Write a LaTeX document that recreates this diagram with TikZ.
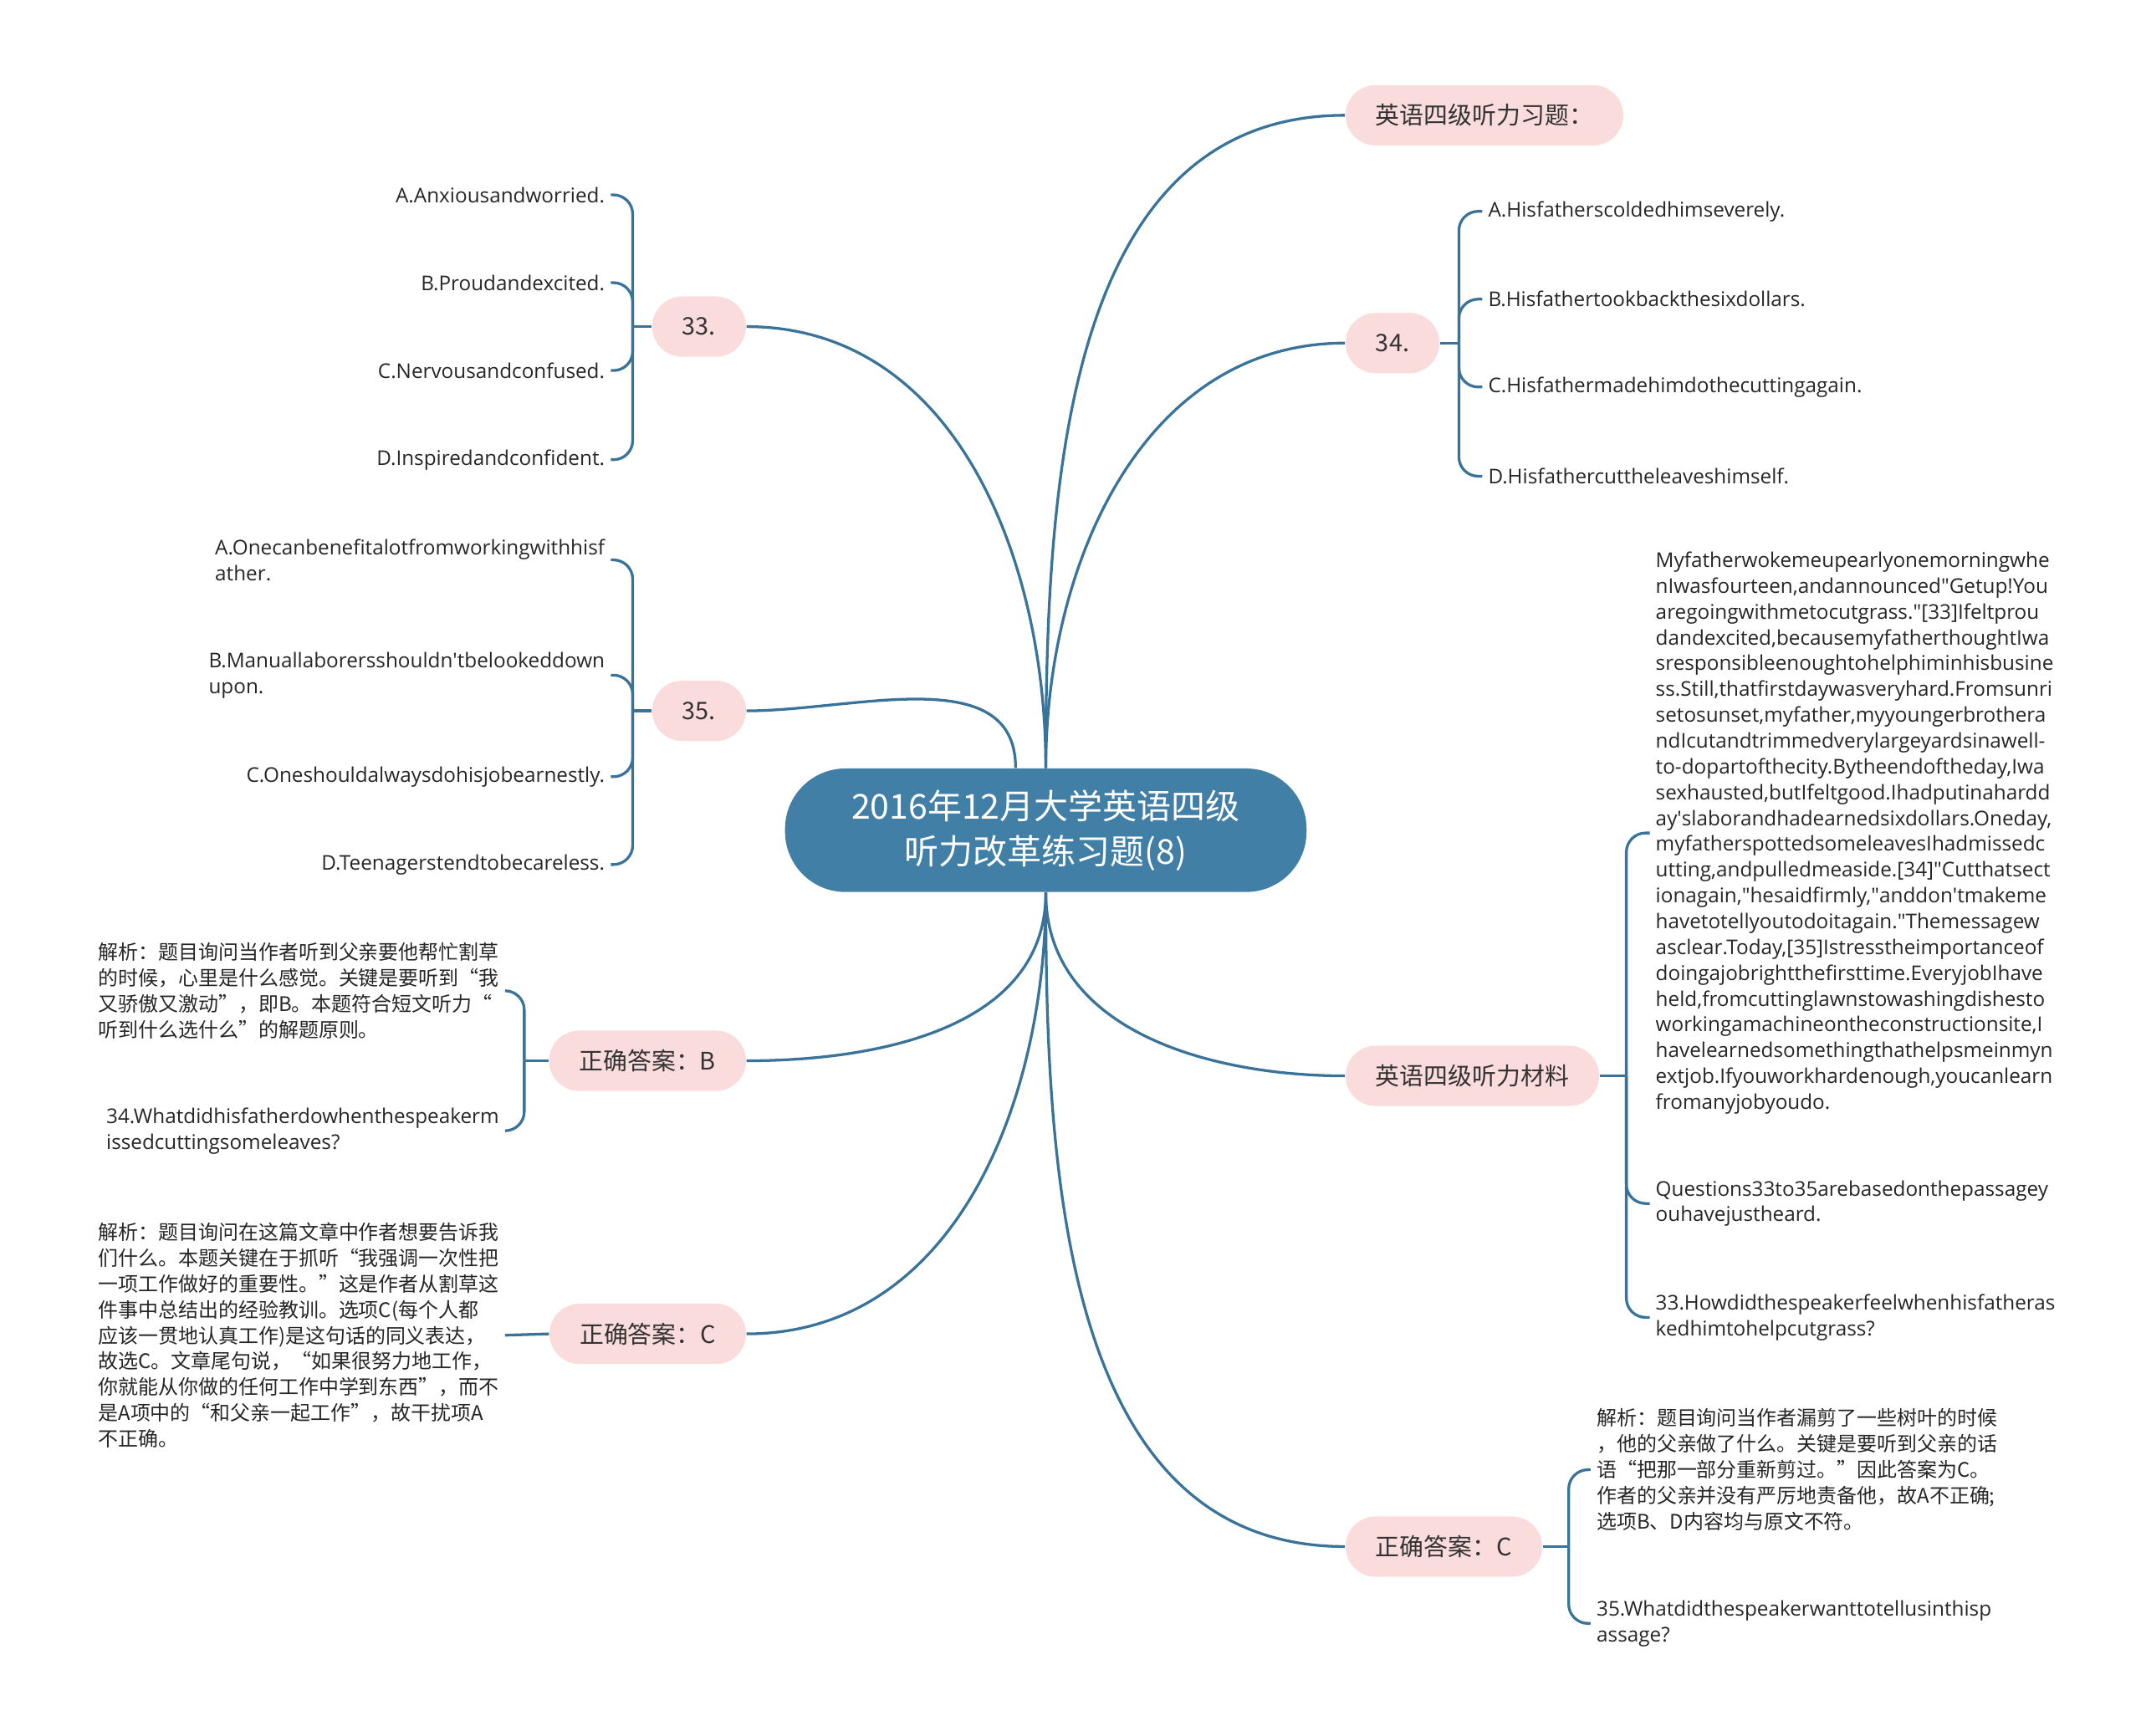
\documentclass[tikz,border=0pt]{standalone}
\usepackage{fontspec}
\setmainfont{Open Sans}
\newfontfamily\cjk{Noto Sans CJK SC}
\definecolor{linkblue}{HTML}{3A7399}
\definecolor{topicblue}{HTML}{417FA6}
\definecolor{pinkbg}{HTML}{FBDCDC}
\definecolor{inkgray}{HTML}{333333}
\newcommand{\dq}{\textquotedbl}
\newcommand{\sq}{\textquotesingle}
\tikzset{
  topic/.style={fill=topicblue,text=white,rounded corners=22pt,minimum width=190pt,minimum height=45pt,align=center,font=\cjk\fontsize{12.5}{16.5}\selectfont},
  sub/.style={fill=pinkbg,text=inkgray,rounded corners=11pt,minimum height=22pt,inner xsep=11pt,font=\cjk\fontsize{8.8}{10}\selectfont},
  leaf/.style={inner sep=2pt,align=left,text=black!85,font=\fontsize{7.4}{9.4}\selectfont},
  cleaf/.style={leaf,font=\cjk\fontsize{7.3}{9.4}\selectfont},
  link/.style={draw=linkblue,line width=1pt},
  hook/.style={link,rounded corners=7pt}
}
\begin{document}
\begin{tikzpicture}[x=0.5pt,y=0.5pt]
\useasboundingbox (0,0) rectangle (1560,-1265);

\node[topic] (main) at (762,-605) {2016年12月大学英语四级\\听力改革练习题(8)};

\node[sub,anchor=west] (ex) at (980,-84) {英语四级听力习题：};
\node[sub,anchor=west] (q34) at (980,-250) {34.};
\node[sub,anchor=west] (mat) at (980,-784) {英语四级听力材料};
\node[sub,anchor=west] (ansR) at (980,-1127) {正确答案：C};
\node[sub,anchor=east] (q33) at (544,-238) {33.};
\node[sub,anchor=east] (q35) at (544,-518) {35.};
\node[sub,anchor=east] (ansB) at (544,-773) {正确答案：B};
\node[sub,anchor=east] (ansC) at (544,-972) {正确答案：C};

\draw[link] (main.north) to[out=90,in=180] (ex.west);
\draw[link] (main.north) to[out=90,in=180] (q34.west);
\draw[link] (main.north) to[out=90,in=0] (q33.east);
\draw[link] ([xshift=-11pt]main.north) to[out=90,in=0] (q35.east);
\draw[link] (main.south) to[out=-90,in=180] (mat.west);
\draw[link] (main.south) to[out=-90,in=180] (ansR.west);
\draw[link] (main.south) to[out=-90,in=0] (ansB.east);
\draw[link] (main.south) to[out=-90,in=0] (ansC.east);

\node[leaf,anchor=east] (a33) at (445,-142) {A.Anxiousandworried.};
\node[leaf,anchor=east] (b33) at (445,-206) {B.Proudandexcited.};
\node[leaf,anchor=east] (c33) at (445,-270) {C.Nervousandconfused.};
\node[leaf,anchor=east] (d33) at (445,-335) {D.Inspiredandconfident.};
\coordinate (j33) at (461,-238);
\draw[link] (q33.west) -- (j33);
\draw[hook] (j33) |- (a33.east);
\draw[hook] (j33) |- (b33.east);
\draw[hook] (j33) |- (c33.east);
\draw[hook] (j33) |- (d33.east);

\node[leaf,anchor=east] (a35) at (445,-408) {A.Onecanbenefitalotfromworkingwithhisf\\ather.};
\node[leaf,anchor=east] (b35) at (445,-492) {B.Manuallaborersshouldn\sq tbelookeddown\\upon.};
\node[leaf,anchor=east] (c35) at (445,-566) {C.Oneshouldalwaysdohisjobearnestly.};
\node[leaf,anchor=east] (d35) at (445,-630) {D.Teenagerstendtobecareless.};
\coordinate (j35) at (461,-518);
\draw[link] (q35.west) -- (j35);
\draw[hook] (j35) |- (a35.east);
\draw[hook] (j35) |- (b35.east);
\draw[hook] (j35) |- (c35.east);
\draw[hook] (j35) |- (d35.east);

\node[leaf,anchor=west] (a34) at (1080,-154) {A.Hisfatherscoldedhimseverely.};
\node[leaf,anchor=west] (b34) at (1080,-218) {B.Hisfathertookbackthesixdollars.};
\node[leaf,anchor=west] (c34) at (1080,-282) {C.Hisfathermadehimdothecuttingagain.};
\node[leaf,anchor=west] (d34) at (1080,-347) {D.Hisfathercuttheleaveshimself.};
\coordinate (j34) at (1063,-250);
\draw[link] (q34.east) -- (j34);
\draw[hook] (j34) |- (a34.west);
\draw[hook] (j34) |- (b34.west);
\draw[hook] (j34) |- (c34.west);
\draw[hook] (j34) |- (d34.west);

\node[leaf,anchor=west] (story) at (1202,-607) {Myfatherwokemeupearlyonemorningwhe\\
nIwasfourteen,andannounced\dq Getup!You\\
aregoingwithmetocutgrass.\dq[33]Ifeltprou\\
dandexcited,becausemyfatherthoughtIwa\\
sresponsibleenoughtohelphiminhisbusine\\
ss.Still,thatfirstdaywasveryhard.Fromsunri\\
setosunset,myfather,myyoungerbrothera\\
ndIcutandtrimmedverylargeyardsinawell-\\
to-dopartofthecity.Bytheendoftheday,Iwa\\
sexhausted,butIfeltgood.Ihadputinahardd\\
ay\sq slaborandhadearnedsixdollars.Oneday,\\
myfatherspottedsomeleavesIhadmissedc\\
utting,andpulledmeaside.[34]\dq Cutthatsect\\
ionagain,\dq hesaidfirmly,\dq anddon\sq tmakeme\\
havetotellyoutodoitagain.\dq Themessagew\\
asclear.Today,[35]Istresstheimportanceof\\
doingajobrightthefirsttime.EveryjobIhave\\
held,fromcuttinglawnstowashingdishesto\\
workingamachineontheconstructionsite,I\\
havelearnedsomethingthathelpsmeinmyn\\
extjob.Ifyouworkhardenough,youcanlearn\\
fromanyjobyoudo.};
\node[leaf,anchor=west] (intro) at (1202,-877) {Questions33to35arebasedonthepassagey\\ouhavejustheard.};
\node[leaf,anchor=west] (ask33) at (1202,-960) {33.Howdidthespeakerfeelwhenhisfatheras\\kedhimtohelpcutgrass?};
\coordinate (jmat) at (1185,-784);
\draw[link] (mat.east) -- (jmat);
\draw[hook] (jmat) |- (story.west);
\draw[hook] (jmat) |- (intro.west);
\draw[hook] (jmat) |- (ask33.west);

\node[cleaf,anchor=west] (whyC) at (1159,-1071) {解析：题目询问当作者漏剪了一些树叶的时候\\，他的父亲做了什么。关键是要听到父亲的话\\语“把那一部分重新剪过。”因此答案为C。\\作者的父亲并没有严厉地责备他，故A不正确;\\选项B、D内容均与原文不符。};
\node[leaf,anchor=west] (ask35) at (1159,-1183) {35.Whatdidthespeakerwanttotellusinthisp\\assage?};
\coordinate (jR) at (1143,-1127);
\draw[link] (ansR.east) -- (jR);
\draw[hook] (jR) |- (whyC.west);
\draw[hook] (jR) |- (ask35.west);

\node[cleaf,anchor=east] (whyB) at (368,-722) {解析：题目询问当作者听到父亲要他帮忙割草\\的时候，心里是什么感觉。关键是要听到“我\\又骄傲又激动”，即B。本题符合短文听力“\\听到什么选什么”的解题原则。};
\node[leaf,anchor=east] (ask34) at (368,-824) {34.Whatdidhisfatherdowhenthespeakerm\\issedcuttingsomeleaves?};
\coordinate (jB) at (382,-773);
\draw[link] (ansB.west) -- (jB);
\draw[hook] (jB) |- (whyB.east);
\draw[hook] (jB) |- (ask34.east);

\node[cleaf,anchor=east] (whyC2) at (368,-973) {解析：题目询问在这篇文章中作者想要告诉我\\们什么。本题关键在于抓听“我强调一次性把\\一项工作做好的重要性。”这是作者从割草这\\件事中总结出的经验教训。选项C(每个人都\\应该一贯地认真工作)是这句话的同义表达，\\故选C。文章尾句说，“如果很努力地工作，\\你就能从你做的任何工作中学到东西”，而不\\是A项中的“和父亲一起工作”，故干扰项A\\不正确。};
\draw[link] (ansC.west) -- (whyC2.east);
\end{tikzpicture}
\end{document}
